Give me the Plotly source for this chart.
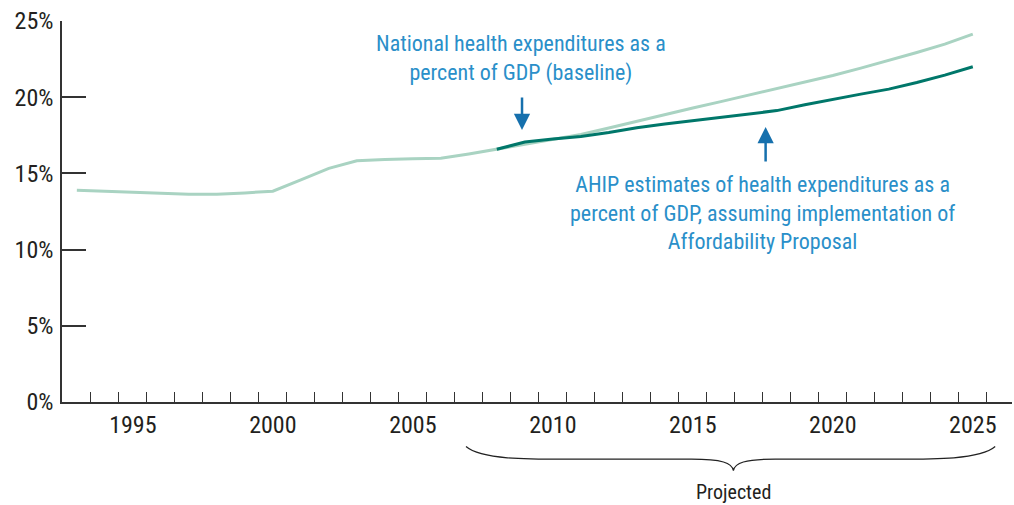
import plotly.graph_objects as go

years = list(range(1993, 2026))
baseline = [13.90, 13.85, 13.78, 13.70, 13.63, 13.63, 13.72, 13.83, 14.57, 15.33,
            15.83, 15.92, 15.96, 15.99, 16.27, 16.58, 16.90, 17.22, 17.55, 17.98,
            18.43, 18.86, 19.29, 19.71, 20.13, 20.56, 20.98, 21.42, 21.91, 22.40,
            22.93, 23.48, 24.14]
proposal_years = list(range(2008, 2026))
proposal = [16.58, 17.06, 17.25, 17.42, 17.68, 18.00, 18.24, 18.47, 18.70, 18.90,
            19.12, 19.51, 19.87, 20.20, 20.53, 20.96, 21.45, 22.00]
label_years = [1995, 2000, 2005, 2010, 2015, 2020, 2025]
y_ticks = [0, 5, 10, 15, 20, 25]

FONT = "Liberation Sans Narrow, Roboto Condensed, DejaVu Sans Condensed, Arial Narrow, sans-serif"
TEXT_BLUE = "#2a8fc9"
ARROW_BLUE = "#1670ad"
AXIS = "#333333"

fig = go.Figure()
fig.add_trace(go.Scatter(x=years, y=baseline, mode="lines",
                         line=dict(color="#a9d3c2", width=3), hoverinfo="skip",
                         name="Baseline"))
fig.add_trace(go.Scatter(x=proposal_years, y=proposal, mode="lines",
                         line=dict(color="#00776a", width=3), hoverinfo="skip",
                         name="AHIP"))

# Brace under the projected period (data x, paper y)
x0, x1, xm = 2006.9, 2025.8, 2016.45
yt, ym, yb = -0.117, -0.150, -0.180
path = (f"M {x0},{yt} C {x0+0.6},{ym-0.005} {x0+2.5},{ym} {x0+4.5},{ym} "
        f"L {xm-1.5},{ym} C {xm-0.4},{ym} {xm-0.05},{ym-0.01} {xm},{yb} "
        f"C {xm+0.05},{ym-0.01} {xm+0.4},{ym} {xm+1.5},{ym} "
        f"L {x1-4.5},{ym} C {x1-2.5},{ym} {x1-0.6},{ym-0.005} {x1},{yt}")
fig.add_shape(type="path", path=path, xref="x", yref="paper",
              line=dict(color="#222222", width=1.2))

annotations = [
    dict(x=2016.45, y=-0.235, xref="x", yref="paper", text="Projected",
         showarrow=False, font=dict(family=FONT, size=20, color="#231f20"),
         xanchor="center", yanchor="middle"),
    dict(x=2008.86, y=22.55, xref="x", yref="y",
         text="National health expenditures as a<br>percent of GDP (baseline)",
         showarrow=False, font=dict(family=FONT, size=22, color=TEXT_BLUE),
         xanchor="center", yanchor="middle", align="center"),
    dict(x=2017.5, y=12.4, xref="x", yref="y",
         text=("AHIP estimates of health expenditures as a<br>"
               "percent of GDP, assuming implementation of<br>Affordability Proposal"),
         showarrow=False, font=dict(family=FONT, size=22, color=TEXT_BLUE),
         xanchor="center", yanchor="middle", align="center"),
    dict(x=2008.9, y=17.84, xref="x", yref="y", text="", showarrow=True,
         ax=0, ay=-34, arrowhead=2, arrowsize=1.3, arrowwidth=2.5,
         arrowcolor=ARROW_BLUE, standoff=0),
    dict(x=2017.6, y=18.04, xref="x", yref="y", text="", showarrow=True,
         ax=0, ay=36, arrowhead=2, arrowsize=1.3, arrowwidth=2.5,
         arrowcolor=ARROW_BLUE, standoff=0),
]

fig.update_layout(
    width=1014, height=505,
    margin=dict(l=62, r=2, t=21, b=103),
    paper_bgcolor="white", plot_bgcolor="white",
    showlegend=False,
    font=dict(family=FONT, size=24, color="#231f20"),
    annotations=annotations,
    xaxis=dict(range=[1992.47, 2026.4], showgrid=False, zeroline=False,
               showline=True, linecolor=AXIS, linewidth=1.5,
               tickvals=label_years, ticktext=[str(y) for y in label_years],
               ticks="", ticklabelstandoff=0,
               tickfont=dict(family=FONT, size=24, color="#231f20"),
               minor=dict(tickvals=[y + 0.5 for y in years], ticks="inside",
                          ticklen=10, tickcolor=AXIS, tickwidth=1.2,
                          showgrid=False)),
    yaxis=dict(range=[0, 25], showgrid=False, zeroline=False,
               showline=True, linecolor=AXIS, linewidth=1.5,
               tickvals=y_ticks, ticktext=[f"{v}%" for v in y_ticks],
               ticks="inside", ticklen=24, tickcolor=AXIS, tickwidth=1.5,
               ticklabelstandoff=2,
               tickfont=dict(family=FONT, size=24, color="#231f20")),
)

fig.write_html("out.html",
               config={"displayModeBar": False},
               post_script="document.body.style.margin='0';document.body.style.overflow='hidden';")
